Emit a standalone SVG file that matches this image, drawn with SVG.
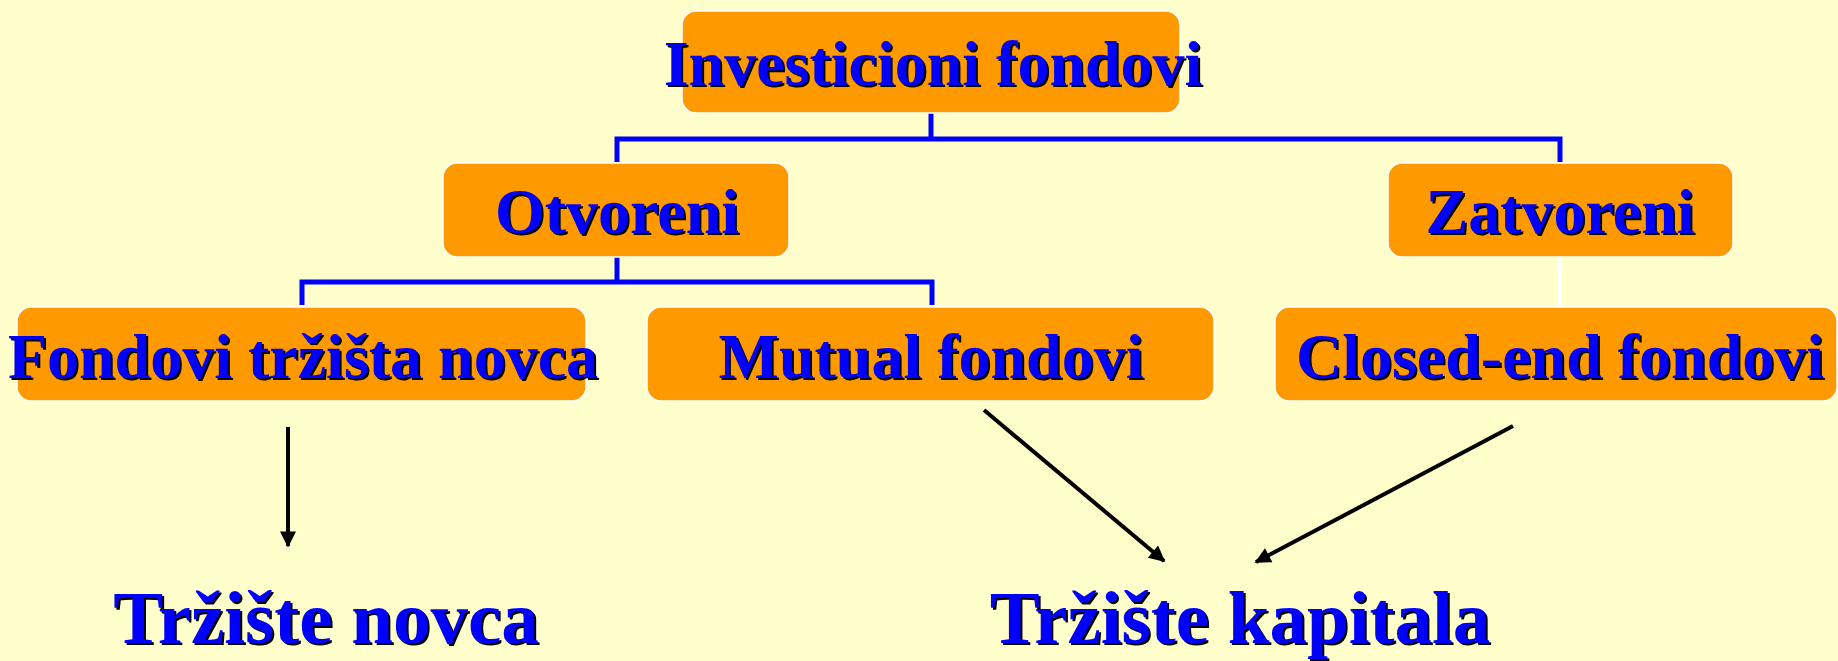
<svg xmlns="http://www.w3.org/2000/svg" width="1838" height="661" viewBox="0 0 1838 661">
<defs>
<style>
.box{fill:#FF9900;stroke:#FFFFFF;stroke-width:1.5}
.t{font-family:"Liberation Serif","Times New Roman",serif;font-weight:bold;font-size:64px;text-anchor:middle}
.big{font-size:75px}
.sh{fill:#000000}
.fg{fill:#0000FF}
.blue{fill:none;stroke:#0000FF;stroke-width:5}
.arr{fill:none;stroke:#000000;stroke-width:4}
</style>
<marker id="ah" viewBox="0 0 10 10" refX="9" refY="5" markerWidth="4.5" markerHeight="4" orient="auto" markerUnits="strokeWidth">
<path d="M0,0 L10,5 L0,10 z" fill="#000000"/>
</marker>
</defs>
<rect width="1838" height="661" fill="#FFFFCC"/>
<g id="connectors">
<path class="blue" d="M931,113 V139 M617,162 V139 H1560 V162"/>
<path class="blue" d="M617,257 V282 M302,305 V282 H932 V305"/>
<line x1="1560" y1="257" x2="1560" y2="307" stroke="#FFFFFF" stroke-width="4"/>
<line class="arr" x1="288" y1="427" x2="288" y2="546" marker-end="url(#ah)"/>
<line class="arr" x1="984" y1="410" x2="1164" y2="561" marker-end="url(#ah)"/>
<line class="arr" x1="1513" y1="426" x2="1256" y2="562" marker-end="url(#ah)"/>
</g>
<g id="n-investicioni">
<rect class="box" x="682" y="11" width="498" height="102" rx="14"/>
<text class="t sh" x="935" y="87">Investicioni fondovi</text>
<text class="t fg" x="933" y="85">Investicioni fondovi</text>
</g>
<g id="n-otvoreni">
<rect class="box" x="443" y="163" width="346" height="94" rx="14"/>
<text class="t sh" x="619" y="235">Otvoreni</text>
<text class="t fg" x="617" y="233">Otvoreni</text>
</g>
<g id="n-zatvoreni">
<rect class="box" x="1388" y="163" width="345" height="94" rx="14"/>
<text class="t sh" x="1562" y="235">Zatvoreni</text>
<text class="t fg" x="1560" y="233">Zatvoreni</text>
</g>
<g id="n-fondovi-trzista">
<rect class="box" x="17" y="307" width="569" height="94" rx="14"/>
<text class="t sh" x="305" y="380">Fondovi tržišta novca</text>
<text class="t fg" x="303" y="378">Fondovi tržišta novca</text>
</g>
<g id="n-mutual">
<rect class="box" x="647" y="307" width="567" height="94" rx="14"/>
<text class="t sh" x="933" y="380">Mutual fondovi</text>
<text class="t fg" x="931" y="378">Mutual fondovi</text>
</g>
<g id="n-closed-end">
<rect class="box" x="1275" y="307" width="562" height="94" rx="14"/>
<text class="t sh" x="1562" y="380">Closed-end fondovi</text>
<text class="t fg" x="1560" y="378">Closed-end fondovi</text>
</g>
<g id="n-trziste-novca">
<text class="t big sh" x="328" y="645">Tržište novca</text>
<text class="t big fg" x="326" y="643">Tržište novca</text>
</g>
<g id="n-trziste-kapitala">
<text class="t big sh" x="1242" y="645">Tržište kapitala</text>
<text class="t big fg" x="1240" y="643">Tržište kapitala</text>
</g>
</svg>
